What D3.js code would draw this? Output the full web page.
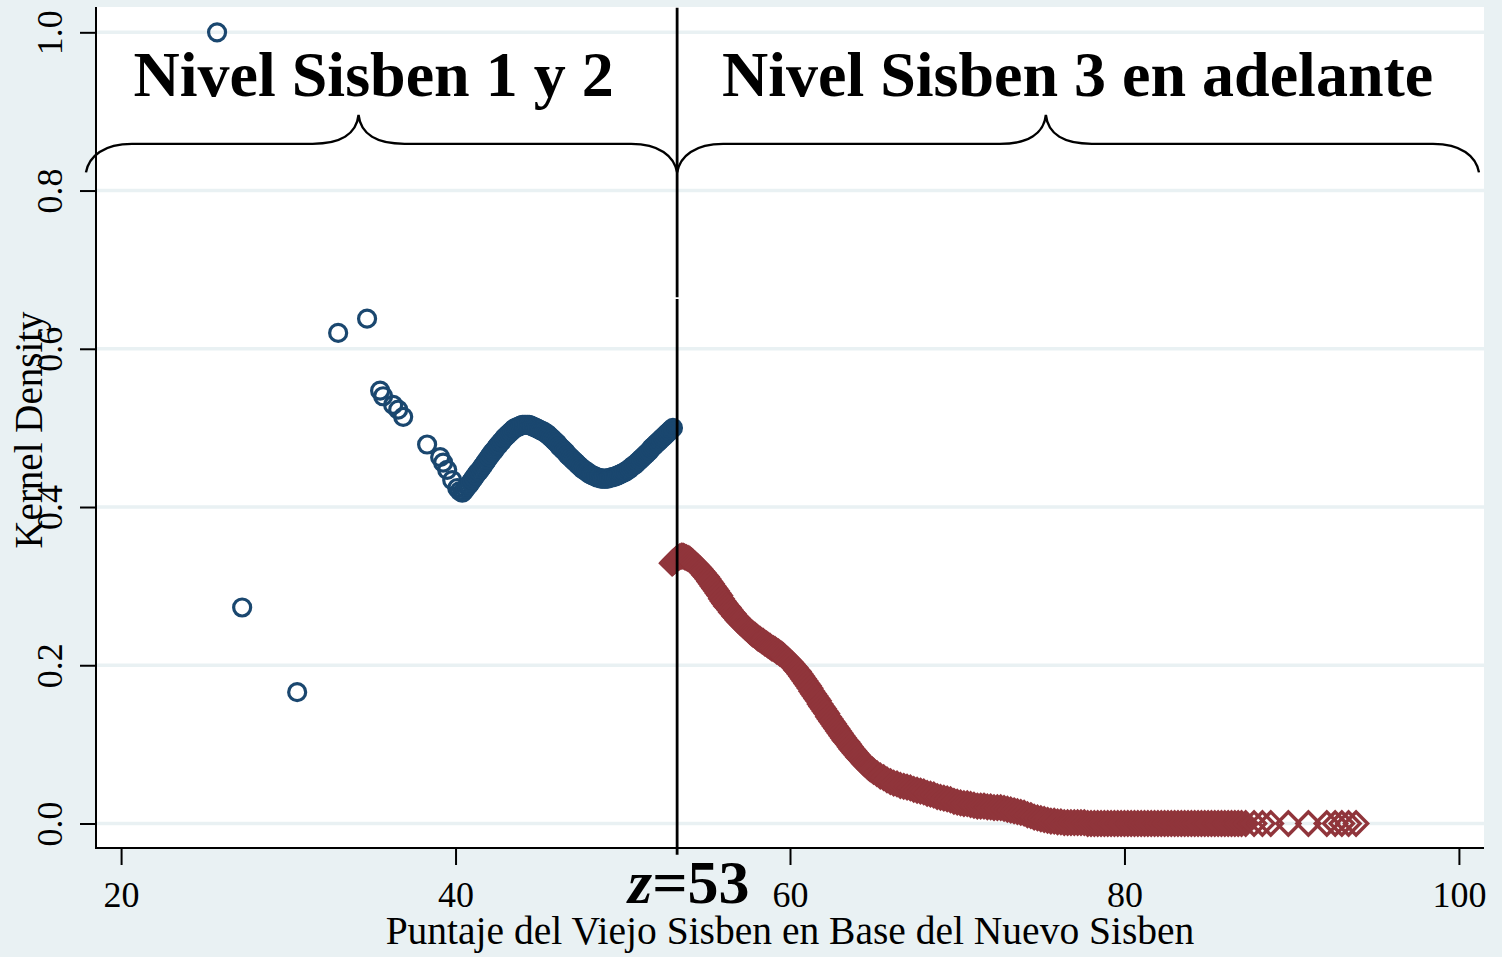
<!DOCTYPE html>
<html>
<head>
<meta charset="utf-8">
<script src="https://cdn.jsdelivr.net/npm/d3@7"></script>
<style>
  html, body { margin: 0; padding: 0; background: #e9f1f3; }
  svg { display: block; }
  text { font-family: "Liberation Serif", "Times New Roman", serif; }
</style>
</head>
<body>
<svg id="chart" width="1502" height="957"></svg>
<script>
// ---------------- DATA ----------------
const xTicks = [20, 40, 60, 80, 100];
const yTicks = [0.0, 0.2, 0.4, 0.6, 0.8, 1.0];
const xTitle = "Puntaje del Viejo Sisben en Base del Nuevo Sisben";
const yTitle = "Kernel Density";
const cutoff = 53.25;
const cutoffLabel = "53";
const groupLabels = ["Nivel Sisben 1 y 2", "Nivel Sisben 3 en adelante"];
const groupCenters = [35.1, 77.2];
// brace: [start, tip, end] in x units
const braces = [[17.9, 34.2, 53.25], [53.25, 75.3, 101.2]];

// Sisben 1 y 2 (hollow circles)
const sisben12 = [
  [25.74,1.000],[27.24,0.273],[30.53,0.166],[32.98,0.620],[34.71,0.638],
  [35.49,0.547],[35.67,0.540],[36.27,0.529],[36.57,0.523],[36.87,0.514],
  [38.30,0.479],[39.08,0.463],[39.26,0.456],[39.50,0.447],[39.80,0.434],
  [40.10,0.424],[40.25,0.420],
  [40.4,0.418],[40.5,0.420],[40.6,0.423],[40.7,0.426],[40.8,0.428],[40.9,0.431],
  [41.0,0.434],[41.1,0.437],[41.2,0.440],[41.3,0.443],[41.4,0.445],[41.5,0.448],
  [41.6,0.451],[41.7,0.454],[41.8,0.457],[41.9,0.460],[42.0,0.463],[42.1,0.466],
  [42.2,0.469],[42.3,0.471],[42.4,0.474],[42.5,0.477],[42.6,0.479],[42.7,0.482],
  [42.8,0.484],[42.9,0.487],[43.0,0.489],[43.1,0.491],[43.2,0.493],[43.3,0.495],
  [43.4,0.497],[43.5,0.499],[43.6,0.500],[43.7,0.501],[43.8,0.502],[43.9,0.503],
  [44.0,0.504],[44.1,0.504],[44.2,0.504],[44.3,0.504],[44.4,0.504],[44.5,0.503],
  [44.6,0.502],[44.7,0.501],[44.8,0.500],[44.9,0.499],[45.0,0.498],[45.1,0.497],
  [45.2,0.496],[45.3,0.495],[45.4,0.493],[45.5,0.492],[45.6,0.490],[45.7,0.488],
  [45.8,0.486],[45.9,0.484],[46.0,0.482],[46.1,0.480],[46.2,0.477],[46.3,0.475],
  [46.4,0.473],[46.5,0.471],[46.6,0.469],[46.7,0.466],[46.8,0.464],[46.9,0.462],
  [47.0,0.460],[47.1,0.458],[47.2,0.456],[47.3,0.454],[47.4,0.452],[47.5,0.450],
  [47.6,0.448],[47.7,0.447],[47.8,0.445],[47.9,0.444],[48.0,0.442],[48.1,0.441],
  [48.2,0.440],[48.3,0.439],[48.4,0.438],[48.5,0.437],[48.6,0.437],[48.7,0.436],
  [48.8,0.436],[48.9,0.436],[49.0,0.436],[49.1,0.436],[49.2,0.437],[49.3,0.437],
  [49.4,0.438],[49.5,0.438],[49.6,0.439],[49.7,0.440],[49.8,0.441],[49.9,0.442],
  [50.0,0.443],[50.1,0.444],[50.2,0.445],[50.3,0.447],[50.4,0.448],[50.5,0.450],
  [50.6,0.452],[50.7,0.453],[50.8,0.455],[50.9,0.457],[51.0,0.459],[51.1,0.461],
  [51.2,0.463],[51.3,0.465],[51.4,0.467],[51.5,0.469],[51.6,0.471],[51.7,0.474],
  [51.8,0.476],[51.9,0.478],[52.0,0.480],[52.1,0.482],[52.2,0.484],[52.3,0.486],
  [52.4,0.488],[52.5,0.490],[52.6,0.492],[52.7,0.494],[52.8,0.496],[52.9,0.498],
  [53.0,0.500]
];

// Sisben 3 en adelante (hollow diamonds)
const sisben3 = [
  [52.95,0.329],[53.0,0.330],[53.1,0.332],[53.2,0.334],[53.3,0.336],[53.4,0.337],
  [53.5,0.338],[53.6,0.338],[53.7,0.337],[53.8,0.336],[53.9,0.335],[54.0,0.334],
  [54.1,0.332],[54.2,0.330],[54.3,0.328],[54.4,0.326],[54.5,0.324],[54.6,0.322],
  [54.7,0.319],[54.8,0.317],[54.9,0.314],[55.0,0.312],[55.1,0.309],[55.2,0.306],
  [55.3,0.303],[55.4,0.300],[55.5,0.297],[55.6,0.294],[55.7,0.291],[55.8,0.288],
  [55.9,0.284],[56.0,0.281],[56.1,0.278],[56.2,0.275],[56.3,0.273],[56.4,0.270],
  [56.5,0.267],[56.6,0.265],[56.7,0.262],[56.8,0.260],[56.9,0.257],[57.0,0.255],
  [57.1,0.253],[57.2,0.251],[57.3,0.249],[57.4,0.247],[57.5,0.245],[57.6,0.243],
  [57.7,0.241],[57.8,0.239],[57.9,0.238],[58.0,0.236],[58.1,0.234],[58.2,0.233],
  [58.3,0.231],[58.4,0.230],[58.5,0.228],[58.6,0.227],[58.7,0.225],[58.8,0.224],
  [58.9,0.222],[59.0,0.221],[59.1,0.220],[59.2,0.218],[59.3,0.217],[59.4,0.215],
  [59.5,0.214],[59.6,0.212],[59.7,0.210],[59.8,0.208],[59.9,0.206],[60.0,0.204],
  [60.1,0.202],[60.2,0.199],[60.3,0.197],[60.4,0.194],[60.5,0.192],[60.6,0.189],
  [60.7,0.186],[60.8,0.183],[60.9,0.180],[61.0,0.177],[61.1,0.174],[61.2,0.171],
  [61.3,0.167],[61.4,0.164],[61.5,0.161],[61.6,0.158],[61.7,0.155],[61.8,0.151],
  [61.9,0.148],[62.0,0.145],[62.1,0.142],[62.2,0.139],[62.3,0.135],[62.4,0.132],
  [62.5,0.129],[62.6,0.126],[62.7,0.123],[62.8,0.120],[62.9,0.117],[63.0,0.114],
  [63.1,0.111],[63.2,0.108],[63.3,0.105],[63.4,0.103],[63.5,0.100],[63.6,0.097],
  [63.7,0.094],[63.8,0.092],[63.9,0.089],[64.0,0.087],[64.1,0.084],[64.2,0.082],
  [64.3,0.080],[64.4,0.077],[64.5,0.075],[64.6,0.073],[64.7,0.071],[64.8,0.069],
  [64.9,0.068],[65.0,0.066],
  [65.2,0.063],[65.4,0.060],[65.6,0.058],[65.8,0.055],[66.0,0.053],[66.2,0.051],
  [66.4,0.050],[66.6,0.048],[66.8,0.047],[67.0,0.046],[67.2,0.045],[67.4,0.043],
  [67.6,0.042],[67.8,0.041],[68.0,0.040],[68.2,0.038],[68.4,0.037],[68.6,0.036],
  [68.8,0.034],[69.0,0.033],[69.2,0.032],[69.4,0.031],[69.6,0.030],[69.8,0.028],
  [70.0,0.027],[70.2,0.026],[70.4,0.025],[70.6,0.025],[70.8,0.024],[71.0,0.023],
  [71.2,0.022],[71.4,0.022],[71.6,0.022],[71.8,0.021],[72.0,0.021],[72.2,0.020],
  [72.4,0.020],[72.6,0.020],[72.8,0.019],[73.0,0.018],[73.2,0.017],[73.4,0.016],
  [73.6,0.015],[73.8,0.014],[74.0,0.013],[74.2,0.011],[74.4,0.010],[74.6,0.008],
  [74.8,0.007],[75.0,0.006],[75.2,0.005],[75.4,0.004],[75.6,0.003],[75.8,0.003],
  [76.0,0.002],[76.2,0.002],[76.4,0.001],[76.6,0.001],[76.8,0.001],[77.0,0.001],
  [77.2,0.001],[77.4,0.001],[77.6,0.001],[77.8,0.000],[78.0,0.000],[78.2,0.000],
  [78.4,0.000],[78.6,0.000],[78.8,0.000],[79.0,0.000],[79.2,0.000],[79.4,0.000],
  [79.6,0.000],[79.8,0.000],[80.0,0.000],[80.2,0.000],[80.4,0.000],[80.6,0.000],
  [80.8,0.000],[81.0,0.000],[81.2,0.000],[81.4,0.000],[81.6,0.000],[81.8,0.000],
  [82.0,0.000],[82.2,0.000],[82.4,0.000],[82.6,0.000],[82.8,0.000],[83.0,0.000],
  [83.2,0.000],[83.4,0.000],[83.6,0.000],[83.8,0.000],[84.0,0.000],[84.2,0.000],
  [84.4,0.000],[84.6,0.000],[84.8,0.000],[85.0,0.000],[85.2,0.000],[85.4,0.000],
  [85.6,0.000],[85.8,0.000],[86.0,0.000],[86.2,0.000],[86.4,0.000],[86.6,0.000],
  [86.8,0.000],[87.0,0.000],
  [87.25,0.000],[87.75,0.000],[88.25,0.000],[88.75,0.000],[89.80,0.000],
  [91.00,0.000],[92.10,0.000],[92.60,0.000],[93.00,0.000],[93.40,0.000],
  [93.85,0.000]
];

// ---------------- CHART ----------------
const W = 1502, H = 957;
const plot = { left: 96, right: 1484, top: 7, bottom: 848 };
const blue = "rgb(26,71,111)";
const red = "rgb(144,53,59)";
const bg = "#e9f1f3";
const grid = "#e9f1f3";

const svg = d3.select("#chart");
svg.append("rect").attr("width", W).attr("height", H).attr("fill", bg);
svg.append("rect")
  .attr("x", plot.left).attr("y", plot.top)
  .attr("width", plot.right - plot.left).attr("height", plot.bottom - plot.top)
  .attr("fill", "#ffffff");

const x = d3.scaleLinear().domain([18.5, 101.5]).range([plot.left, plot.right]);
const y = d3.scaleLinear().domain([-0.031, 1.032]).range([plot.bottom, plot.top]);

// grid lines
svg.append("g").selectAll("line").data(yTicks).join("line")
  .attr("x1", plot.left + 1).attr("x2", plot.right)
  .attr("y1", d => y(d)).attr("y2", d => y(d))
  .attr("stroke", grid).attr("stroke-width", 3.5);

// blue circles
svg.append("g").selectAll("circle").data(sisben12).join("circle")
  .attr("cx", d => x(d[0])).attr("cy", d => y(d[1]))
  .attr("r", 8.5)
  .attr("fill", "none").attr("stroke", blue).attr("stroke-width", 3.2);

// red diamonds
const dh = 11.5;
svg.append("g").selectAll("path").data(sisben3).join("path")
  .attr("d", d => {
    const cx = x(d[0]), cy = y(d[1]);
    return `M${cx},${cy - dh}L${cx + dh},${cy}L${cx},${cy + dh}L${cx - dh},${cy}Z`;
  })
  .attr("fill", "none").attr("stroke", red).attr("stroke-width", 3.4)
  .attr("stroke-linejoin", "miter");

// cutoff line (two segments as in original)
svg.append("line")
  .attr("x1", x(cutoff)).attr("x2", x(cutoff))
  .attr("y1", y(1.031)).attr("y2", y(0.665))
  .attr("stroke", "#000").attr("stroke-width", 2.8);
svg.append("line")
  .attr("x1", x(cutoff)).attr("x2", x(cutoff))
  .attr("y1", y(0.663)).attr("y2", y(-0.0395))
  .attr("stroke", "#000").attr("stroke-width", 2.8);

// braces
const yEnd = y(0.823), yMid = y(0.859), yTip = y(0.8955);
function bracePath(b) {
  const x0 = x(b[0]), xt = x(b[1]), x1 = x(b[2]);
  const r = 46;
  return [
    `M${x0},${yEnd}`,
    `C${x0 + 3},${yMid + 12} ${x0 + 18},${yMid} ${x0 + r},${yMid}`,
    `L${xt - r},${yMid}`,
    `C${xt - 18},${yMid} ${xt - 2},${yMid - 10} ${xt},${yTip}`,
    `C${xt + 2},${yMid - 10} ${xt + 18},${yMid} ${xt + r},${yMid}`,
    `L${x1 - r},${yMid}`,
    `C${x1 - 18},${yMid} ${x1 - 3},${yMid + 12} ${x1},${yEnd}`
  ].join(" ");
}
svg.append("g").selectAll("path").data(braces).join("path")
  .attr("d", bracePath)
  .attr("fill", "none").attr("stroke", "#000").attr("stroke-width", 2.4);

// group labels
svg.append("g").selectAll("text").data(groupLabels).join("text")
  .attr("x", (d, i) => x(groupCenters[i])).attr("y", y(0.919))
  .attr("text-anchor", "middle")
  .attr("font-size", 64).attr("font-weight", "bold")
  .attr("fill", "#000")
  .text(d => d);

// axes lines
svg.append("line").attr("x1", plot.left).attr("x2", plot.left)
  .attr("y1", plot.top).attr("y2", plot.bottom + 1)
  .attr("stroke", "#000").attr("stroke-width", 2);
svg.append("line").attr("x1", plot.left - 1).attr("x2", plot.right)
  .attr("y1", plot.bottom).attr("y2", plot.bottom)
  .attr("stroke", "#000").attr("stroke-width", 2);

// x axis
const xAxis = svg.append("g").attr("transform", `translate(0,${plot.bottom})`)
  .call(d3.axisBottom(x).tickValues(xTicks).tickSize(17).tickFormat(d3.format("d")));
xAxis.select(".domain").remove();
xAxis.selectAll(".tick line").attr("stroke", "#000").attr("stroke-width", 2);
xAxis.selectAll(".tick text")
  .attr("y", 59).attr("dy", 0)
  .attr("font-size", 36).attr("font-family", "Liberation Serif").attr("fill", "#000");

// y axis
const yAxis = svg.append("g").attr("transform", `translate(${plot.left},0)`)
  .call(d3.axisLeft(y).tickValues(yTicks).tickSize(16).tickFormat(d3.format(".1f")));
yAxis.select(".domain").remove();
yAxis.selectAll(".tick line").attr("stroke", "#000").attr("stroke-width", 2);
yAxis.selectAll(".tick text")
  .attr("x", 0).attr("y", 0).attr("dy", 0)
  .attr("transform", "translate(-34,0) rotate(-90)")
  .attr("text-anchor", "middle")
  .attr("font-size", 36).attr("font-family", "Liberation Serif").attr("fill", "#000");

// axis titles
svg.append("text")
  .attr("x", (plot.left + plot.right) / 2).attr("y", 944)
  .attr("text-anchor", "middle").attr("font-size", 39.5).attr("fill", "#000")
  .text(xTitle);
svg.append("text")
  .attr("transform", `translate(42,430) rotate(-90)`)
  .attr("text-anchor", "middle").attr("font-size", 39).attr("fill", "#000")
  .text(yTitle);

// cutoff label z=53
const zl = svg.append("text")
  .attr("x", x(cutoff) - 49).attr("y", 903)
  .attr("font-size", 62).attr("font-weight", "bold").attr("fill", "#000");
zl.append("tspan").attr("font-style", "italic").text("z");
zl.append("tspan").text("=" + cutoffLabel);
</script>
</body>
</html>
